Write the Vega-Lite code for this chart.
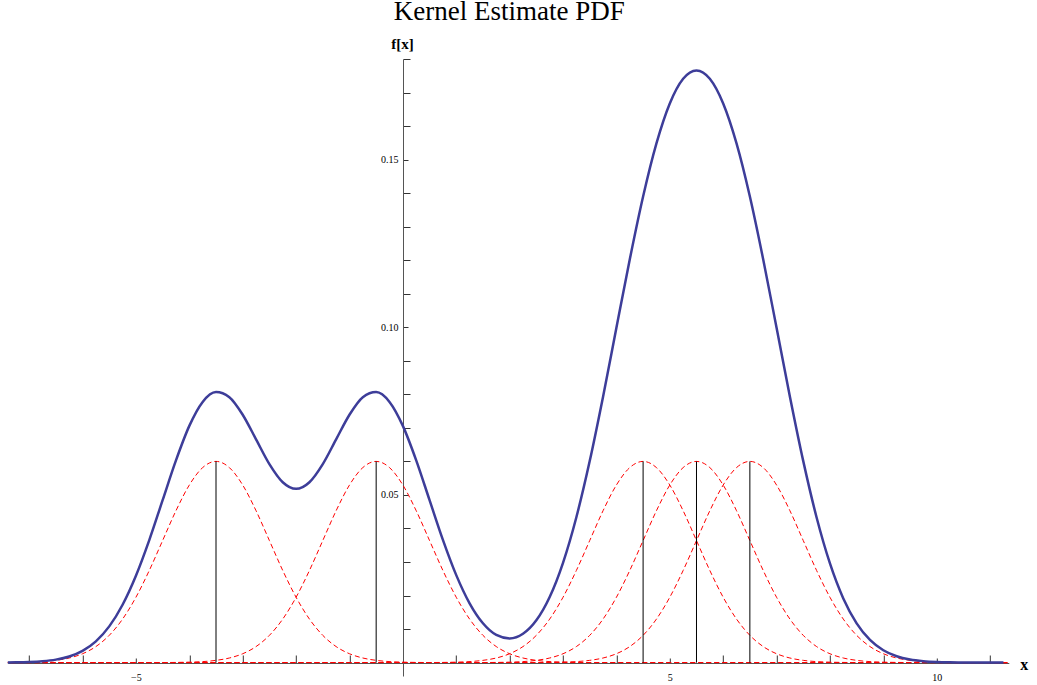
{
  "$schema": "https://vega.github.io/schema/vega-lite/v6.json",
  "width": 1001,
  "height": 617,
  "autosize": {"type": "none"},
  "padding": {"left": 7.8, "top": 59, "right": 28.2, "bottom": 9},
  "background": "white",
  "config": {"view": {"stroke": null}},
  "title": {"text": "Kernel Estimate PDF", "font": "Liberation Serif", "fontSize": 27, "fontWeight": "normal", "color": "black", "anchor": "middle", "frame": "group", "baseline": "alphabetic", "offset": 17, "dx": 1, "dy": 28},
  "datasets": {
    "kde": [
      {"x": -7.5, "f": 0.0000267}, {"x": -7.25, "f": 0.0000705}, {"x": -7.0, "f": 0.000175}, {"x": -6.75, "f": 0.000406},
      {"x": -6.5, "f": 0.000886}, {"x": -6.25, "f": 0.001818}, {"x": -6.0, "f": 0.003506}, {"x": -5.75, "f": 0.006348},
      {"x": -5.5, "f": 0.010799}, {"x": -5.25, "f": 0.017257}, {"x": -5.0, "f": 0.025907}, {"x": -4.75, "f": 0.036539},
      {"x": -4.5, "f": 0.048421}, {"x": -4.25, "f": 0.060298}, {"x": -4.0, "f": 0.070588}, {"x": -3.75, "f": 0.07774},
      {"x": -3.5, "f": 0.080675}, {"x": -3.25, "f": 0.079152}, {"x": -3.0, "f": 0.073919}, {"x": -2.75, "f": 0.066575},
      {"x": -2.5, "f": 0.059193}, {"x": -2.25, "f": 0.053786}, {"x": -2.0, "f": 0.051807}, {"x": -1.75, "f": 0.053786},
      {"x": -1.5, "f": 0.059193}, {"x": -1.25, "f": 0.066575}, {"x": -1.0, "f": 0.073919}, {"x": -0.75, "f": 0.079152},
      {"x": -0.5, "f": 0.080675}, {"x": -0.25, "f": 0.077741}, {"x": 0.0, "f": 0.070592}, {"x": 0.25, "f": 0.060308},
      {"x": 0.5, "f": 0.048448}, {"x": 0.75, "f": 0.036611}, {"x": 1.0, "f": 0.026084}, {"x": 1.25, "f": 0.017673},
      {"x": 1.5, "f": 0.011712}, {"x": 1.75, "f": 0.008238}, {"x": 2.0, "f": 0.00719}, {"x": 2.25, "f": 0.008582},
      {"x": 2.5, "f": 0.012598}, {"x": 2.75, "f": 0.019551}, {"x": 3.0, "f": 0.029759}, {"x": 3.25, "f": 0.043354},
      {"x": 3.5, "f": 0.060106}, {"x": 3.75, "f": 0.079311}, {"x": 4.0, "f": 0.099826}, {"x": 4.25, "f": 0.120212},
      {"x": 4.5, "f": 0.138982}, {"x": 4.75, "f": 0.154818}, {"x": 5.0, "f": 0.166731}, {"x": 5.25, "f": 0.174092},
      {"x": 5.5, "f": 0.176578}, {"x": 5.75, "f": 0.174092}, {"x": 6.0, "f": 0.166731}, {"x": 6.25, "f": 0.154818},
      {"x": 6.5, "f": 0.138982}, {"x": 6.75, "f": 0.120212}, {"x": 7.0, "f": 0.099823}, {"x": 7.25, "f": 0.079302},
      {"x": 7.5, "f": 0.06008}, {"x": 7.75, "f": 0.043284}, {"x": 8.0, "f": 0.029584}, {"x": 8.25, "f": 0.019145},
      {"x": 8.5, "f": 0.011712}, {"x": 8.75, "f": 0.006764}, {"x": 9.0, "f": 0.003684}, {"x": 9.25, "f": 0.00189},
      {"x": 9.5, "f": 0.000913}, {"x": 9.75, "f": 0.000416}, {"x": 10.0, "f": 0.000178}, {"x": 10.25, "f": 0.0000716},
      {"x": 10.5, "f": 0.000027}, {"x": 10.75, "f": 0.0000096}, {"x": 11.0, "f": 0.0000032}, {"x": 11.25, "f": 0.000001}
    ],
    "kernels": [
      {"k": "a", "x": -7.5, "f": 0.00002}, {"k": "a", "x": -7.0, "f": 0.000131}, {"k": "a", "x": -6.5, "f": 0.000667}, {"k": "a", "x": -6.25, "f": 0.001367},
      {"k": "a", "x": -6.0, "f": 0.002636}, {"k": "a", "x": -5.75, "f": 0.004774}, {"k": "a", "x": -5.5, "f": 0.00812}, {"k": "a", "x": -5.25, "f": 0.012976},
      {"k": "a", "x": -5.0, "f": 0.019479}, {"k": "a", "x": -4.75, "f": 0.02747}, {"k": "a", "x": -4.5, "f": 0.036392}, {"k": "a", "x": -4.25, "f": 0.04529},
      {"k": "a", "x": -4.0, "f": 0.05295}, {"k": "a", "x": -3.75, "f": 0.058154}, {"k": "a", "x": -3.5, "f": 0.06}, {"k": "a", "x": -3.25, "f": 0.058154},
      {"k": "a", "x": -3.0, "f": 0.05295}, {"k": "a", "x": -2.75, "f": 0.04529}, {"k": "a", "x": -2.5, "f": 0.036392}, {"k": "a", "x": -2.25, "f": 0.02747},
      {"k": "a", "x": -2.0, "f": 0.019479}, {"k": "a", "x": -1.75, "f": 0.012976}, {"k": "a", "x": -1.5, "f": 0.00812}, {"k": "a", "x": -1.25, "f": 0.004774},
      {"k": "a", "x": -1.0, "f": 0.002636}, {"k": "a", "x": -0.75, "f": 0.001367}, {"k": "a", "x": -0.5, "f": 0.000667}, {"k": "a", "x": 0.0, "f": 0.000131},
      {"k": "a", "x": 0.5, "f": 0.00002}, {"k": "a", "x": 11.35, "f": 0},

      {"k": "b", "x": -7.5, "f": 0}, {"k": "b", "x": -4.5, "f": 0.00002}, {"k": "b", "x": -4.0, "f": 0.000131}, {"k": "b", "x": -3.5, "f": 0.000667}, {"k": "b", "x": -3.25, "f": 0.001367},
      {"k": "b", "x": -3.0, "f": 0.002636}, {"k": "b", "x": -2.75, "f": 0.004774}, {"k": "b", "x": -2.5, "f": 0.00812}, {"k": "b", "x": -2.25, "f": 0.012976},
      {"k": "b", "x": -2.0, "f": 0.019479}, {"k": "b", "x": -1.75, "f": 0.02747}, {"k": "b", "x": -1.5, "f": 0.036392}, {"k": "b", "x": -1.25, "f": 0.04529},
      {"k": "b", "x": -1.0, "f": 0.05295}, {"k": "b", "x": -0.75, "f": 0.058154}, {"k": "b", "x": -0.5, "f": 0.06}, {"k": "b", "x": -0.25, "f": 0.058154},
      {"k": "b", "x": 0.0, "f": 0.05295}, {"k": "b", "x": 0.25, "f": 0.04529}, {"k": "b", "x": 0.5, "f": 0.036392}, {"k": "b", "x": 0.75, "f": 0.02747},
      {"k": "b", "x": 1.0, "f": 0.019479}, {"k": "b", "x": 1.25, "f": 0.012976}, {"k": "b", "x": 1.5, "f": 0.00812}, {"k": "b", "x": 1.75, "f": 0.004774},
      {"k": "b", "x": 2.0, "f": 0.002636}, {"k": "b", "x": 2.25, "f": 0.001367}, {"k": "b", "x": 2.5, "f": 0.000667}, {"k": "b", "x": 3.0, "f": 0.000131},
      {"k": "b", "x": 3.5, "f": 0.00002}, {"k": "b", "x": 11.35, "f": 0},

      {"k": "c", "x": -7.5, "f": 0}, {"k": "c", "x": 0.5, "f": 0.00002}, {"k": "c", "x": 1.0, "f": 0.000131}, {"k": "c", "x": 1.5, "f": 0.000667}, {"k": "c", "x": 1.75, "f": 0.001367},
      {"k": "c", "x": 2.0, "f": 0.002636}, {"k": "c", "x": 2.25, "f": 0.004774}, {"k": "c", "x": 2.5, "f": 0.00812}, {"k": "c", "x": 2.75, "f": 0.012976},
      {"k": "c", "x": 3.0, "f": 0.019479}, {"k": "c", "x": 3.25, "f": 0.02747}, {"k": "c", "x": 3.5, "f": 0.036392}, {"k": "c", "x": 3.75, "f": 0.04529},
      {"k": "c", "x": 4.0, "f": 0.05295}, {"k": "c", "x": 4.25, "f": 0.058154}, {"k": "c", "x": 4.5, "f": 0.06}, {"k": "c", "x": 4.75, "f": 0.058154},
      {"k": "c", "x": 5.0, "f": 0.05295}, {"k": "c", "x": 5.25, "f": 0.04529}, {"k": "c", "x": 5.5, "f": 0.036392}, {"k": "c", "x": 5.75, "f": 0.02747},
      {"k": "c", "x": 6.0, "f": 0.019479}, {"k": "c", "x": 6.25, "f": 0.012976}, {"k": "c", "x": 6.5, "f": 0.00812}, {"k": "c", "x": 6.75, "f": 0.004774},
      {"k": "c", "x": 7.0, "f": 0.002636}, {"k": "c", "x": 7.25, "f": 0.001367}, {"k": "c", "x": 7.5, "f": 0.000667}, {"k": "c", "x": 8.0, "f": 0.000131},
      {"k": "c", "x": 8.5, "f": 0.00002}, {"k": "c", "x": 11.35, "f": 0},

      {"k": "d", "x": -7.5, "f": 0}, {"k": "d", "x": 1.5, "f": 0.00002}, {"k": "d", "x": 2.0, "f": 0.000131}, {"k": "d", "x": 2.5, "f": 0.000667}, {"k": "d", "x": 2.75, "f": 0.001367},
      {"k": "d", "x": 3.0, "f": 0.002636}, {"k": "d", "x": 3.25, "f": 0.004774}, {"k": "d", "x": 3.5, "f": 0.00812}, {"k": "d", "x": 3.75, "f": 0.012976},
      {"k": "d", "x": 4.0, "f": 0.019479}, {"k": "d", "x": 4.25, "f": 0.02747}, {"k": "d", "x": 4.5, "f": 0.036392}, {"k": "d", "x": 4.75, "f": 0.04529},
      {"k": "d", "x": 5.0, "f": 0.05295}, {"k": "d", "x": 5.25, "f": 0.058154}, {"k": "d", "x": 5.5, "f": 0.06}, {"k": "d", "x": 5.75, "f": 0.058154},
      {"k": "d", "x": 6.0, "f": 0.05295}, {"k": "d", "x": 6.25, "f": 0.04529}, {"k": "d", "x": 6.5, "f": 0.036392}, {"k": "d", "x": 6.75, "f": 0.02747},
      {"k": "d", "x": 7.0, "f": 0.019479}, {"k": "d", "x": 7.25, "f": 0.012976}, {"k": "d", "x": 7.5, "f": 0.00812}, {"k": "d", "x": 7.75, "f": 0.004774},
      {"k": "d", "x": 8.0, "f": 0.002636}, {"k": "d", "x": 8.25, "f": 0.001367}, {"k": "d", "x": 8.5, "f": 0.000667}, {"k": "d", "x": 9.0, "f": 0.000131},
      {"k": "d", "x": 9.5, "f": 0.00002}, {"k": "d", "x": 11.35, "f": 0},

      {"k": "e", "x": -7.5, "f": 0}, {"k": "e", "x": 2.5, "f": 0.00002}, {"k": "e", "x": 3.0, "f": 0.000131}, {"k": "e", "x": 3.5, "f": 0.000667}, {"k": "e", "x": 3.75, "f": 0.001367},
      {"k": "e", "x": 4.0, "f": 0.002636}, {"k": "e", "x": 4.25, "f": 0.004774}, {"k": "e", "x": 4.5, "f": 0.00812}, {"k": "e", "x": 4.75, "f": 0.012976},
      {"k": "e", "x": 5.0, "f": 0.019479}, {"k": "e", "x": 5.25, "f": 0.02747}, {"k": "e", "x": 5.5, "f": 0.036392}, {"k": "e", "x": 5.75, "f": 0.04529},
      {"k": "e", "x": 6.0, "f": 0.05295}, {"k": "e", "x": 6.25, "f": 0.058154}, {"k": "e", "x": 6.5, "f": 0.06}, {"k": "e", "x": 6.75, "f": 0.058154},
      {"k": "e", "x": 7.0, "f": 0.05295}, {"k": "e", "x": 7.25, "f": 0.04529}, {"k": "e", "x": 7.5, "f": 0.036392}, {"k": "e", "x": 7.75, "f": 0.02747},
      {"k": "e", "x": 8.0, "f": 0.019479}, {"k": "e", "x": 8.25, "f": 0.012976}, {"k": "e", "x": 8.5, "f": 0.00812}, {"k": "e", "x": 8.75, "f": 0.004774},
      {"k": "e", "x": 9.0, "f": 0.002636}, {"k": "e", "x": 9.25, "f": 0.001367}, {"k": "e", "x": 9.5, "f": 0.000667}, {"k": "e", "x": 10.0, "f": 0.000131},
      {"k": "e", "x": 10.5, "f": 0.00002}, {"k": "e", "x": 11.35, "f": 0}
    ],
    "points": [
      {"x": -3.5, "f": 0, "h": 0.06}, {"x": -0.5, "f": 0, "h": 0.06}, {"x": 4.5, "f": 0, "h": 0.06},
      {"x": 5.5, "f": 0, "h": 0.06}, {"x": 6.5, "f": 0, "h": 0.06}
    ]
  },
  "encoding": {
    "x": {
      "field": "x", "type": "quantitative",
      "scale": {"domain": [-7.4, 11.35], "nice": false, "zero": false},
      "axis": {
        "values": [-7, -6, -5, -4, -3, -2, -1, 1, 2, 3, 4, 5, 6, 7, 8, 9, 10, 11],
        "labelExpr": "datum.value == -5 ? '−5' : ((datum.value == 5 || datum.value == 10) ? datum.label : '')",
        "offset": -13,
        "tickSize": {"condition": {"test": "datum.value == -5 || datum.value == 5 || datum.value == 10", "value": -5}, "value": -8},
        "labelPadding": 14,
        "labelFlush": false, "labelOverlap": false,
        "labelFont": "Liberation Serif", "labelFontSize": 10, "labelColor": "#000000",
        "domainColor": "#555555", "domainWidth": 1, "tickColor": "#333333", "tickWidth": 1,
        "grid": false,
        "title": "x", "titleFont": "Liberation Serif", "titleFontWeight": "bold", "titleFontSize": 16, "titleColor": "#000000",
        "titleX": 1016, "titleY": 6, "titleAlign": "center", "titleBaseline": "alphabetic", "titleAngle": 0
      }
    },
    "y": {
      "field": "f", "type": "quantitative",
      "scale": {"domain": [-0.004, 0.18], "nice": false, "zero": false},
      "axis": {
        "values": [0.01, 0.02, 0.03, 0.04, 0.05, 0.06, 0.07, 0.08, 0.09, 0.1, 0.11, 0.12, 0.13, 0.14, 0.15, 0.16, 0.17, 0.18],
        "labelExpr": "abs(datum.value - 0.05) < 1e-6 ? '0.05' : (abs(datum.value - 0.1) < 1e-6 ? '0.10' : (abs(datum.value - 0.15) < 1e-6 ? '0.15' : ''))",
        "offset": -395.2,
        "tickSize": {"condition": {"test": "abs(datum.value - 0.05) < 1e-6 || abs(datum.value - 0.1) < 1e-6 || abs(datum.value - 0.15) < 1e-6", "value": -5}, "value": -7},
        "labelPadding": 10,
        "labelFlush": false, "labelOverlap": false,
        "labelFont": "Liberation Serif", "labelFontSize": 10, "labelColor": "#000000",
        "domainColor": "#555555", "domainWidth": 1, "tickColor": "#333333", "tickWidth": 1,
        "grid": false,
        "title": "f[x]", "titleFont": "Liberation Serif", "titleFontWeight": "bold", "titleFontSize": 15, "titleColor": "#000000",
        "titleX": -1, "titleY": -11, "titleAlign": "center", "titleBaseline": "alphabetic", "titleAngle": 0
      }
    }
  },
  "layer": [
    {
      "data": {"name": "kernels"},
      "mark": {"type": "line", "color": "#ff0000", "strokeWidth": 1, "strokeDash": [5, 3], "interpolate": "monotone", "clip": true},
      "encoding": {"detail": {"field": "k", "type": "nominal"}}
    },
    {
      "data": {"name": "points"},
      "mark": {"type": "rule", "color": "#000000", "strokeWidth": 1},
      "encoding": {"y2": {"field": "h"}}
    },
    {
      "data": {"name": "kde"},
      "mark": {"type": "line", "color": "#3d3d99", "strokeWidth": 2.5, "interpolate": "monotone", "clip": true},
      "encoding": {}
    }
  ]
}
